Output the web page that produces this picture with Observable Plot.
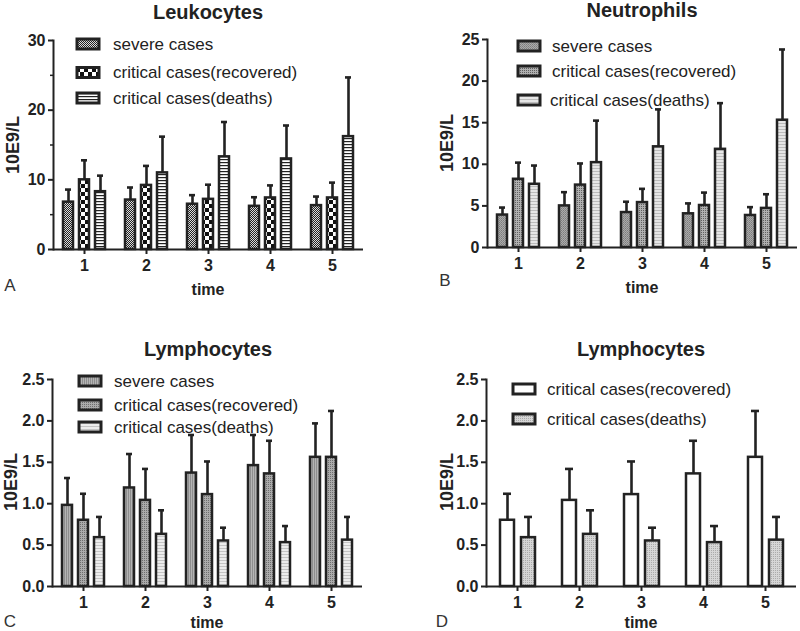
<!DOCTYPE html>
<html>
<head>
<meta charset="utf-8">
<script src="https://cdn.jsdelivr.net/npm/d3@7"></script>
<script src="https://cdn.jsdelivr.net/npm/@observablehq/plot@0.6"></script>
<style>
  html, body { margin: 0; padding: 0; background: #fff; }
  #root { position: relative; width: 800px; height: 631px; overflow: hidden; background: #fff; }
  .panel { position: absolute; }
  #overlay { position: absolute; left: 0; top: 0; pointer-events: none; }
  #defs { position: absolute; left: 0; top: 0; width: 0; height: 0; }
</style>
</head>
<body>
<div id="root"></div>
<script>
// ---------------- data ----------------
const times = [1, 2, 3, 4, 5];
const seriesABC = ["severe cases", "critical cases(recovered)", "critical cases(deaths)"];
const seriesD = ["critical cases(recovered)", "critical cases(deaths)"];

// Leukocytes (mean, upper error)
const leukSevere = [6.8, 7.1, 6.5, 6.2, 6.3];
const leukSevereErr = [8.6, 8.9, 7.8, 7.5, 7.6];
const leukRecovered = [10.0, 9.2, 7.2, 7.4, 7.4];
const leukRecoveredErr = [12.8, 12.0, 9.3, 9.2, 9.6];
const leukDeaths = [8.3, 11.0, 13.3, 13.0, 16.2];
const leukDeathsErr = [10.6, 16.2, 18.3, 17.8, 24.7];

// Neutrophils
const neutSevere = [3.9, 5.0, 4.2, 4.05, 3.85];
const neutSevereErr = [4.8, 6.65, 5.5, 5.3, 4.85];
const neutRecovered = [8.2, 7.5, 5.4, 5.05, 4.7];
const neutRecoveredErr = [10.2, 10.1, 7.05, 6.6, 6.4];
const neutDeaths = [7.6, 10.2, 12.1, 11.8, 15.3];
const neutDeathsErr = [9.85, 15.25, 16.6, 17.35, 23.8];

// Lymphocytes
const lymSevere = [0.98, 1.19, 1.37, 1.46, 1.56];
const lymSevereErr = [1.31, 1.60, 1.83, 1.83, 1.97];
const lymRecovered = [0.80, 1.04, 1.11, 1.36, 1.56];
const lymRecoveredErr = [1.12, 1.42, 1.51, 1.76, 2.12];
const lymDeaths = [0.59, 0.63, 0.55, 0.53, 0.56];
const lymDeathsErr = [0.84, 0.92, 0.71, 0.73, 0.84];

const yTicksA = [0, 10, 20, 30];
const yMinorA = [5, 15, 25];
const yTicksB = [0, 5, 10, 15, 20, 25];
const yTicksC = [0, 0.5, 1.0, 1.5, 2.0, 2.5];

// ---------------- helpers ----------------
function rows(series, values, errs) {
  const out = [];
  series.forEach((s, i) => {
    times.forEach((t, j) => out.push({time: t, series: s, value: values[i][j], err: errs[i][j]}));
  });
  return out;
}

const FONT = "'Liberation Sans', Arial, Helvetica, sans-serif";
const INK = "#222";

// pattern definitions
const defsSvg = d3.select("#root").append("svg").attr("id", "defs").attr("width", 0).attr("height", 0);
const defs = defsSvg.append("defs");
function pat(id, w, h, bg, rects) {
  const p = defs.append("pattern").attr("id", id).attr("patternUnits", "userSpaceOnUse")
    .attr("width", w).attr("height", h);
  p.append("rect").attr("width", w).attr("height", h).attr("fill", bg);
  rects.forEach(([x, y, rw, rh, c]) => p.append("rect").attr("x", x).attr("y", y).attr("width", rw).attr("height", rh).attr("fill", c));
}
pat("pA1", 2, 2, "#dcdcdc", [[0, 0, 1, 1, "#222"], [1, 1, 1, 1, "#222"]]);
pat("pA2", 8, 8, "#ffffff", [[0, 0, 4, 4, "#111"], [4, 4, 4, 4, "#111"]]);
pat("pA3", 4, 3, "#ffffff", [[0, 0, 4, 1.2, "#222"]]);
pat("pB1", 2, 2, "#aaaaaa", [[0, 0, 1, 1, "#7c7c7c"], [1, 1, 1, 1, "#8a8a8a"]]);
pat("pB2", 2, 2, "#b0b0b0", [[0, 0, 1, 1, "#606060"]]);
pat("pB3", 4, 3, "#e6e6e6", [[0, 0, 4, 1, "#bcbcbc"]]);
pat("pC1", 2, 2, "#b4b4b4", [[0, 0, 1, 2, "#8e8e8e"]]);
pat("pC2", 2, 2, "#ababab", [[0, 0, 1, 1, "#6e6e6e"]]);
pat("pC3", 4, 3, "#ececec", [[0, 0, 4, 1, "#c4c4c4"]]);
pat("pD1", 2, 2, "#ffffff", []);
pat("pD2", 2, 2, "#d6d6d6", [[0, 0, 1, 1, "#ababab"]]);

function panel({left, top, width, height, margins, data, series, fills, yDomain, yTicks, yMinor, tickFmt, xPad}) {
  const marks = [
    Plot.barY(data, {fx: "time", x: "series", y: "value", fill: "series", stroke: INK, strokeWidth: 2.5}),
    Plot.ruleX(data, {fx: "time", x: "series", y1: "value", y2: "err", stroke: INK, strokeWidth: 2.6}),
    Plot.tickY(data, {fx: "time", x: "series", y: "err", stroke: INK, strokeWidth: 2.6, insetLeft: xPad.cap, insetRight: xPad.cap}),
    Plot.ruleY([0], {stroke: INK, strokeWidth: 2}),
    Plot.frame({anchor: "left", facetAnchor: "left", stroke: INK, strokeWidth: 2}),
    Plot.axisY({ticks: yTicks, tickSize: 5, tickPadding: 3, label: null, stroke: INK, strokeWidth: 2, tickFormat: tickFmt}),
    Plot.axisFx({anchor: "bottom", tickSize: 5, tickPadding: 5, label: null, stroke: INK, strokeWidth: 2})
  ];
  if (yMinor) marks.push(Plot.axisY({ticks: yMinor, tickSize: 3, text: null, label: null, stroke: INK, strokeWidth: 1.5}));
  const chart = Plot.plot({
    width, height,
    marginLeft: margins[0], marginRight: margins[1], marginTop: margins[2], marginBottom: margins[3],
    style: {fontFamily: FONT, fontSize: "16px", fontWeight: "bold", color: INK, background: "transparent", overflow: "visible"},
    fx: {domain: times, padding: 0, label: null},
    x: {domain: series, paddingInner: xPad.inner, paddingOuter: xPad.outer, axis: null},
    y: {domain: yDomain, label: null},
    color: {domain: series, range: fills},
    marks
  });
  chart.classList.add("panel");
  chart.style.left = left + "px";
  chart.style.top = top + "px";
  document.getElementById("root").appendChild(chart);
}

const fmt1 = d3.format(".1f");

panel({
  left: 0, top: 0, width: 400, height: 310, margins: [52, 36, 40, 61],
  data: rows(seriesABC, [leukSevere, leukRecovered, leukDeaths], [leukSevereErr, leukRecoveredErr, leukDeathsErr]),
  series: seriesABC, fills: ["url(#pA1)", "url(#pA2)", "url(#pA3)"],
  yDomain: [0, 30], yTicks: yTicksA, yMinor: yMinorA, tickFmt: d3.format("d"),
  xPad: {inner: 0.35, outer: 0.51, cap: 2}
});
panel({
  left: 400, top: 0, width: 400, height: 310, margins: [86, 3, 39, 63],
  data: rows(seriesABC, [neutSevere, neutRecovered, neutDeaths], [neutSevereErr, neutRecoveredErr, neutDeathsErr]),
  series: seriesABC, fills: ["url(#pB1)", "url(#pB2)", "url(#pB3)"],
  yDomain: [0, 25], yTicks: yTicksB, yMinor: null, tickFmt: d3.format("d"),
  xPad: {inner: 0.35, outer: 0.51, cap: 2}
});
panel({
  left: 0, top: 320, width: 400, height: 311, margins: [50, 37, 59, 45],
  data: rows(seriesABC, [lymSevere, lymRecovered, lymDeaths], [lymSevereErr, lymRecoveredErr, lymDeathsErr]),
  series: seriesABC, fills: ["url(#pC1)", "url(#pC2)", "url(#pC3)"],
  yDomain: [0, 2.5], yTicks: yTicksC, yMinor: null, tickFmt: fmt1,
  xPad: {inner: 0.35, outer: 0.51, cap: 2}
});
panel({
  left: 400, top: 320, width: 400, height: 311, margins: [85, 3, 59, 45],
  data: rows(seriesD, [lymRecovered, lymDeaths], [lymRecoveredErr, lymDeathsErr]),
  series: seriesD, fills: ["url(#pD1)", "url(#pD2)"],
  yDomain: [0, 2.5], yTicks: yTicksC, yMinor: null, tickFmt: fmt1,
  xPad: {inner: 0.34, outer: 0.59, cap: 3}
});

// ---------------- overlay: titles, legends, labels ----------------
const ov = d3.select("#root").append("svg").attr("id", "overlay").attr("width", 800).attr("height", 631)
  .style("font-family", FONT);

const titles = [
  {text: "Leukocytes", x: 208, y: 12},
  {text: "Neutrophils", x: 642, y: 10},
  {text: "Lymphocytes", x: 208, y: 349},
  {text: "Lymphocytes", x: 641, y: 349}
];
titles.forEach(t => ov.append("text").attr("x", t.x).attr("y", t.y).attr("text-anchor", "middle")
  .attr("dominant-baseline", "central").attr("font-size", 20).attr("font-weight", "bold").attr("fill", INK).text(t.text));

const xLabels = [{x: 208, y: 289}, {x: 642, y: 287}, {x: 207, y: 622}, {x: 641, y: 622}];
xLabels.forEach(t => ov.append("text").attr("x", t.x).attr("y", t.y).attr("text-anchor", "middle")
  .attr("dominant-baseline", "central").attr("font-size", 16).attr("font-weight", "bold").attr("fill", INK).text("time"));

const yLabels = [{x: 13, y: 145}, {x: 447, y: 143}, {x: 11, y: 482}, {x: 447, y: 482}];
yLabels.forEach(t => ov.append("text").attr("transform", `translate(${t.x},${t.y}) rotate(-90)`)
  .attr("text-anchor", "middle").attr("dominant-baseline", "central").attr("font-size", 18)
  .attr("font-weight", "bold").attr("fill", INK).text("10E9/L"));

const letters = [{t: "A", x: 10, y: 285}, {t: "B", x: 445, y: 280}, {t: "C", x: 10, y: 621}, {t: "D", x: 442, y: 621}];
letters.forEach(l => ov.append("text").attr("x", l.x).attr("y", l.y).attr("text-anchor", "middle")
  .attr("dominant-baseline", "central").attr("font-size", 17).attr("fill", "#333").text(l.t));

function legend(items, sx, tx, ys) {
  items.forEach((it, i) => {
    ov.append("rect").attr("x", sx).attr("y", ys[i] - 5).attr("width", 22).attr("height", 10)
      .attr("fill", it.fill).attr("stroke", INK).attr("stroke-width", 3);
    ov.append("text").attr("x", tx[i]).attr("y", ys[i]).attr("dominant-baseline", "central")
      .attr("font-size", 17).attr("fill", INK).text(it.label);
  });
}
legend(seriesABC.map((s, i) => ({label: s, fill: ["url(#pA1)", "url(#pA2)", "url(#pA3)"][i]})), 77, [113, 113, 113], [44, 72.5, 98]);
legend(seriesABC.map((s, i) => ({label: s, fill: ["url(#pB1)", "url(#pB2)", "url(#pB3)"][i]})), 518, [552, 552, 550], [46, 71, 100]);
legend(seriesABC.map((s, i) => ({label: s, fill: ["url(#pC1)", "url(#pC2)", "url(#pC3)"][i]})), 79, [114, 114, 114], [381, 405, 427]);
legend(seriesD.map((s, i) => ({label: s, fill: ["url(#pD1)", "url(#pD2)"][i]})), 513, [547, 547], [389, 419]);
</script>
</body>
</html>
